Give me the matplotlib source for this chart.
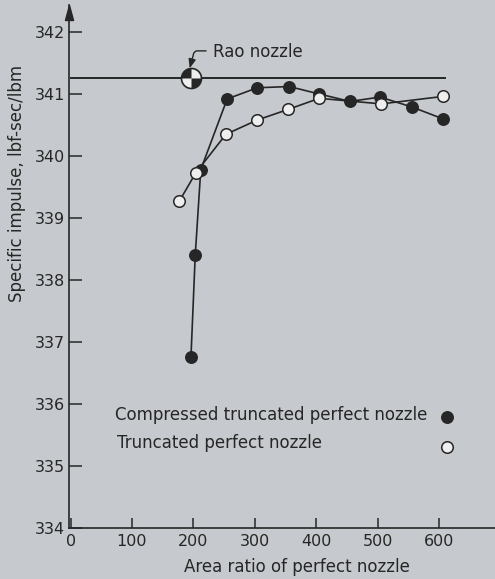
import matplotlib
matplotlib.use("Agg")
import matplotlib.pyplot as plt
import matplotlib.transforms as mtransforms
from matplotlib.path import Path
import numpy as np

# ---- data ----
compressed_x = [196, 203, 212, 255, 304, 356, 405, 455, 504, 556, 606]
compressed_y = [336.75, 338.40, 339.78, 340.92, 341.10, 341.12, 341.00, 340.88, 340.95, 340.79, 340.60]

truncated_x = [177, 204, 253, 304, 354, 405, 506, 606]
truncated_y = [339.27, 339.73, 340.35, 340.58, 340.75, 340.93, 340.84, 340.96]

rao_x = [196]
rao_y = [341.25]
rao_line_x = [0, 610]

x_ticks = [0, 100, 200, 300, 400, 500, 600]
y_ticks = [334, 335, 336, 337, 338, 339, 340, 341, 342]

labels = ["Compressed truncated perfect nozzle", "Truncated perfect nozzle"]

BG = "#c6c9cd"
INK = "#262626"
OPEN = "#eeeeee"

plt.rcParams['font.family'] = ['DejaVu Sans']

fig = plt.figure(figsize=(4.95, 5.79), dpi=100, facecolor=BG)
W, H = 495, 579
ax = fig.add_axes([69 / W, 51 / H, 426 / W, 523 / H])
ax.set_facecolor(BG)

ax.set_xlim(-2.6, 691.2)
ax.set_ylim(334, 342.435)

for s in ("top", "right"):
    ax.spines[s].set_visible(False)
for s in ("left", "bottom"):
    ax.spines[s].set_color(INK)
    ax.spines[s].set_linewidth(1.2)

ax.set_xticks(x_ticks)
ax.set_xticklabels([str(v) for v in x_ticks])
ax.set_yticks(y_ticks)
ax.set_yticklabels([str(v) for v in y_ticks])
ax.tick_params(axis="x", direction="in", length=7.5, width=1.1, color=INK,
               labelcolor=INK, labelsize=11.5, pad=4)
ax.tick_params(axis="y", direction="in", length=9, width=1.1, color=INK,
               labelcolor=INK, labelsize=11.5, pad=3)

# arrowhead on top of y-axis
arrow_path = Path([(0, 0), (-0.27, -1), (0.27, -1), (0, 0)],
                  [Path.MOVETO, Path.LINETO, Path.LINETO, Path.CLOSEPOLY])
ax.plot([0], [1], marker=arrow_path, markersize=21.6, color=INK,
        transform=ax.transAxes, clip_on=False, zorder=5)

# Rao reference line
ax.plot(rao_line_x, [rao_y[0]] * len(rao_line_x), color=INK, lw=1.4, zorder=2)

# curves
ax.plot(compressed_x, compressed_y, color=INK, lw=1.2, zorder=3)
ax.plot(truncated_x, truncated_y, color=INK, lw=1.2, zorder=3)

# markers
ax.plot(compressed_x, compressed_y, linestyle="none", marker="o", markersize=8.3,
        markerfacecolor=INK, markeredgecolor=INK, markeredgewidth=1.0, zorder=4)
ax.plot(truncated_x, truncated_y, linestyle="none", marker="o", markersize=8.3,
        markerfacecolor=OPEN, markeredgecolor=INK, markeredgewidth=1.1, zorder=5)

# Rao quartered marker
q1 = Path.wedge(90, 180)
q2 = Path.wedge(270, 360)
ax.plot(rao_x, rao_y, linestyle="none", marker="o", markersize=14.4,
        markerfacecolor=OPEN, markeredgecolor="none", zorder=6)
ax.plot(rao_x, rao_y, linestyle="none", marker=q1, markersize=14.4,
        markerfacecolor=INK, markeredgecolor="none", zorder=7)
ax.plot(rao_x, rao_y, linestyle="none", marker=q2, markersize=14.4,
        markerfacecolor=INK, markeredgecolor="none", zorder=7)
ax.plot(rao_x, rao_y, linestyle="none", marker="o", markersize=14.4,
        markerfacecolor="none", markeredgecolor=INK, markeredgewidth=1.2, zorder=8)

ax.annotate("Rao nozzle", xy=(rao_x[0] - 2, rao_y[0] + 0.165), xytext=(232, 341.6),
            textcoords="data", ha="left", va="baseline", fontsize=12, color=INK,
            arrowprops=dict(arrowstyle="-|>,head_length=0.45,head_width=0.18",
                            connectionstyle="angle,angleA=0,angleB=75,rad=3",
                            color=INK, lw=1.0, relpos=(0, 0.55), shrinkA=3, shrinkB=0))

# legend (text + keys)
ax.text(0.108, 0.2065, labels[0], transform=ax.transAxes, ha="left", va="baseline",
        fontsize=12, color=INK)
ax.text(0.113, 0.153, labels[1], transform=ax.transAxes, ha="left", va="baseline",
        fontsize=12, color=INK)
ax.plot([0.887], [0.212], transform=ax.transAxes, marker="o", markersize=8.3,
        markerfacecolor=INK, markeredgecolor=INK, linestyle="none", clip_on=False)
ax.plot([0.887], [0.155], transform=ax.transAxes, marker="o", markersize=8.3,
        markerfacecolor=OPEN, markeredgecolor=INK, markeredgewidth=1.1,
        linestyle="none", clip_on=False)

# axis labels
fig.text(17 / W, (H - 183) / H, "Specific impulse, lbf-sec/lbm", rotation=90,
         ha="center", va="center", fontsize=12, color=INK)
fig.text(297 / W, 7 / H, "Area ratio of perfect nozzle", ha="center", va="baseline",
         fontsize=12, color=INK)

fig.savefig("out.png", dpi=100, facecolor=BG)
